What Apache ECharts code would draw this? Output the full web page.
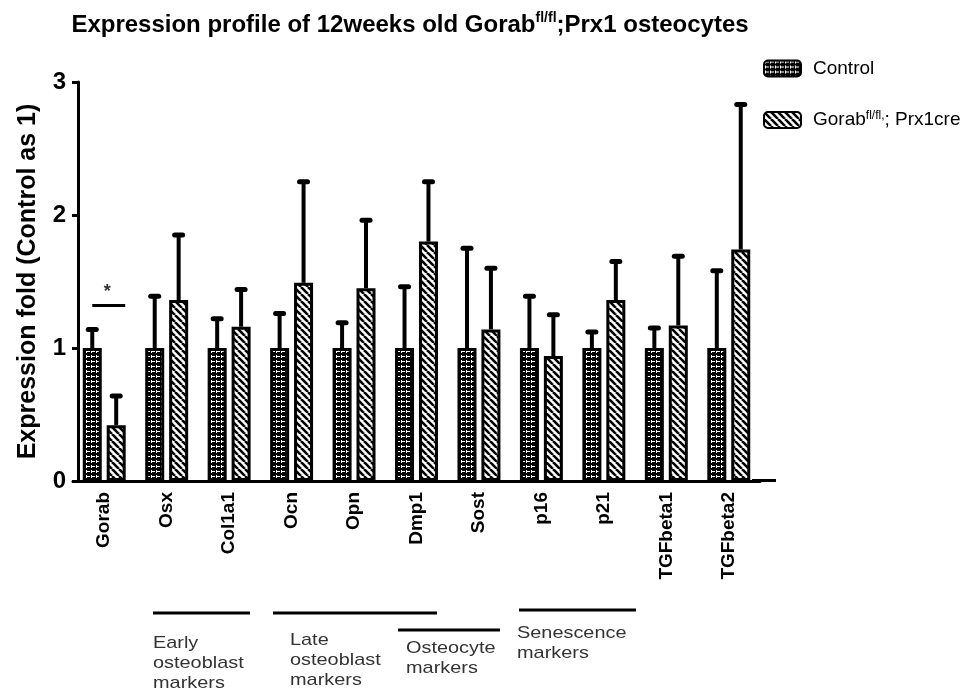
<!DOCTYPE html>
<html>
<head>
<meta charset="utf-8">
<script src="https://cdn.jsdelivr.net/npm/echarts@6/dist/echarts.min.js"></script>
<style>
  html, body { margin: 0; padding: 0; background: #fff; }
  #main { width: 966px; height: 693px; }
</style>
</head>
<body>
<div id="main"></div>
<script>
// values (mean and top of error bar)
const categories = ['Gorab', 'Osx', 'Col1a1', 'Ocn', 'Opn', 'Dmp1', 'Sost', 'p16', 'p21', 'TGFbeta1', 'TGFbeta2']
const controlMean = [1, 1, 1, 1, 1, 1, 1, 1, 1, 1, 1]
const controlUpper = [1.14, 1.39, 1.22, 1.26, 1.19, 1.46, 1.75, 1.39, 1.12, 1.15, 1.58]
const mutantMean = [0.42, 1.36, 1.16, 1.49, 1.45, 1.80, 1.14, 0.94, 1.36, 1.17, 1.74]
const mutantUpper = [0.64, 1.85, 1.44, 2.25, 1.96, 2.25, 1.60, 1.25, 1.65, 1.69, 2.83]
const yTicks = [0, 1, 2, 3]
const sigCats = [0]
const sigLevel = [1.32]
const sigText = ['*']
const groupNames = ['Early\nosteoblast\nmarkers', 'Late\nosteoblast\nmarkers', 'Osteocyte\nmarkers', 'Senescence\nmarkers']

const FONT = '"Liberation Sans", Arial, sans-serif'
const barW = 19
const gapRatio = 0.26
const half = (barW + barW * gapRatio) / 2

function makeControlPattern() {
  let c = document.createElement('canvas')
  c.width = 5
  c.height = 5
  let ctx = c.getContext('2d')
  ctx.fillStyle = '#000'
  ctx.fillRect(0, 0, 5, 5)
  ctx.fillStyle = '#fff'
  ctx.fillRect(1, 0, 1, 3)
  ctx.fillRect(1, 1, 4, 1)
  return c
}

function makeHatchPattern() {
  let s = 7
  let c = document.createElement('canvas')
  c.width = s
  c.height = s
  let ctx = c.getContext('2d')
  ctx.fillStyle = '#fff'
  ctx.fillRect(0, 0, s, s)
  ctx.strokeStyle = '#000'
  ctx.lineWidth = 2.6
  for (let k = -1; k <= 1; k++) {
    ctx.beginPath()
    ctx.moveTo(k * s, 0)
    ctx.lineTo(k * s + s, s)
    ctx.stroke()
  }
  return c
}

function errorBar(offset) {
  return function (params, api) {
    let x = api.coord([api.value(0), 0])[0] + offset
    let yTop = api.coord([api.value(0), api.value(1)])[1]
    let yCap = api.coord([api.value(0), api.value(2)])[1]
    return {
      type: 'group',
      children: [
        { type: 'line', shape: { x1: x, y1: yTop, x2: x, y2: yCap }, style: { stroke: '#000', lineWidth: 4 } },
        { type: 'line', shape: { x1: x - 4, y1: yCap, x2: x + 4, y2: yCap }, style: { stroke: '#000', lineWidth: 5, lineCap: 'round' } }
      ]
    }
  }
}

const MUTANT = 'Gorab fl/fl; Prx1cre'

const chart = echarts.init(document.getElementById('main'))

// bracket annotations under the axis (pure layout)
const groupLines = [
  { x1: 153, x2: 250, y: 613, tx: 153, ty: 633 },
  { x1: 273, x2: 437, y: 613, tx: 290, ty: 630 },
  { x1: 398, x2: 500, y: 630, tx: 406, ty: 638 },
  { x1: 519, x2: 636, y: 610, tx: 517, ty: 623 }
]
let graphics = []
groupLines.forEach(function (g, i) {
  graphics.push({
    type: 'line', shape: { x1: g.x1, y1: g.y, x2: g.x2, y2: g.y },
    style: { stroke: '#000', lineWidth: 3 }
  })
  graphics.push({
    type: 'text', x: g.tx, y: g.ty, scaleX: 1.17,
    style: { text: groupNames[i], fontSize: 17, fontFamily: FONT, fill: '#333', lineHeight: 20, verticalAlign: 'top' }
  })
})
// x axis line runs a bit past the last category in the original
graphics.push({
  type: 'line', shape: { x1: 752, y1: 480.5, x2: 776, y2: 480.5 },
  style: { stroke: '#000', lineWidth: 3 }
})

const option = {
  animation: false,
  backgroundColor: '#fff',
  title: {
    text: '{t|Expression profile of 12weeks old Gorab}{s|fl/fl}{t|;Prx1 osteocytes}',
    left: 405,
    top: 6,
    textAlign: 'center',
    textStyle: {
      rich: {
        t: { fontSize: 24, fontWeight: 'bold', fontFamily: FONT, color: '#000', lineHeight: 28 },
        s: { fontSize: 14, fontWeight: 'bold', fontFamily: FONT, color: '#000', lineHeight: 14, verticalAlign: 'top' }
      }
    }
  },
  legend: {
    data: ['Control', MUTANT],
    orient: 'vertical',
    left: 763,
    top: 59,
    padding: 0,
    itemWidth: 37,
    itemHeight: 16,
    itemGap: 32,
    icon: 'roundRect',
    formatter: function (name) {
      return name === 'Control' ? '{n|Control}' : '{n|Gorab}{s|fl/fl,}{n|; Prx1cre}'
    },
    textStyle: {
      padding: [0, 0, 0, 7],
      rich: {
        n: { fontSize: 19, fontFamily: FONT, color: '#000', lineHeight: 20 },
        s: { fontSize: 12, fontFamily: FONT, color: '#000', lineHeight: 12, verticalAlign: 'top' }
      }
    }
  },
  grid: { left: 73, right: 206, top: 82, bottom: 212, containLabel: false },
  xAxis: {
    type: 'category',
    data: categories,
    boundaryGap: true,
    axisLine: { lineStyle: { color: '#000', width: 3 } },
    axisTick: { alignWithLabel: true, length: 7, lineStyle: { color: '#000', width: 3 } },
    axisLabel: { rotate: 90, margin: 11, fontSize: 19, fontWeight: 'bold', fontFamily: FONT, color: '#000', interval: 0 }
  },
  yAxis: {
    type: 'value',
    min: yTicks[0],
    max: yTicks[yTicks.length - 1],
    interval: 1,
    offset: -5,
    name: 'Expression fold (Control as 1)',
    nameLocation: 'middle',
    nameRotate: 90,
    nameGap: 37,
    nameTextStyle: { fontSize: 25, fontWeight: 'bold', fontFamily: FONT, color: '#000' },
    splitLine: { show: false },
    axisLine: { show: true, lineStyle: { color: '#000', width: 3 } },
    axisTick: { show: true, length: 6, lineStyle: { color: '#000', width: 3 } },
    axisLabel: { margin: 12, fontSize: 24, fontWeight: 'bold', fontFamily: FONT, color: '#000' }
  },
  series: [
    {
      name: 'Control',
      type: 'bar',
      data: controlMean,
      barWidth: barW,
      barGap: (gapRatio * 100) + '%',
      itemStyle: { color: { image: makeControlPattern(), repeat: 'repeat' }, borderColor: '#000', borderWidth: 3 }
    },
    {
      name: MUTANT,
      type: 'bar',
      data: mutantMean,
      barWidth: barW,
      barGap: (gapRatio * 100) + '%',
      itemStyle: { color: { image: makeHatchPattern(), repeat: 'repeat' }, borderColor: '#000', borderWidth: 3 }
    },
    {
      type: 'custom',
      name: 'ctrl-err',
      renderItem: errorBar(-half),
      encode: { x: 0, y: [1, 2] },
      data: categories.map(function (c, i) { return [i, controlMean[i], controlUpper[i]] }),
      z: 3
    },
    {
      type: 'custom',
      name: 'mut-err',
      renderItem: errorBar(half),
      encode: { x: 0, y: [1, 2] },
      data: categories.map(function (c, i) { return [i, mutantMean[i], mutantUpper[i]] }),
      z: 3
    },
    {
      type: 'custom',
      name: 'sig',
      renderItem: function (params, api) {
        let p = api.coord([api.value(0), api.value(1)])
        return {
          type: 'group',
          children: [
            { type: 'line', shape: { x1: p[0] - half, y1: p[1], x2: p[0] + half + 9, y2: p[1] }, style: { stroke: '#000', lineWidth: 3 } },
            { type: 'text', x: p[0] + 3, y: p[1] - 4, style: { text: sigText[params.dataIndex], fontSize: 18, fontWeight: 'bold', fontFamily: FONT, fill: '#333', align: 'center', verticalAlign: 'bottom' } }
          ]
        }
      },
      encode: { x: 0, y: 1 },
      data: sigCats.map(function (c, i) { return [c, sigLevel[i]] }),
      z: 3
    }
  ],
  graphic: graphics
}

chart.setOption(option)
</script>
</body>
</html>
